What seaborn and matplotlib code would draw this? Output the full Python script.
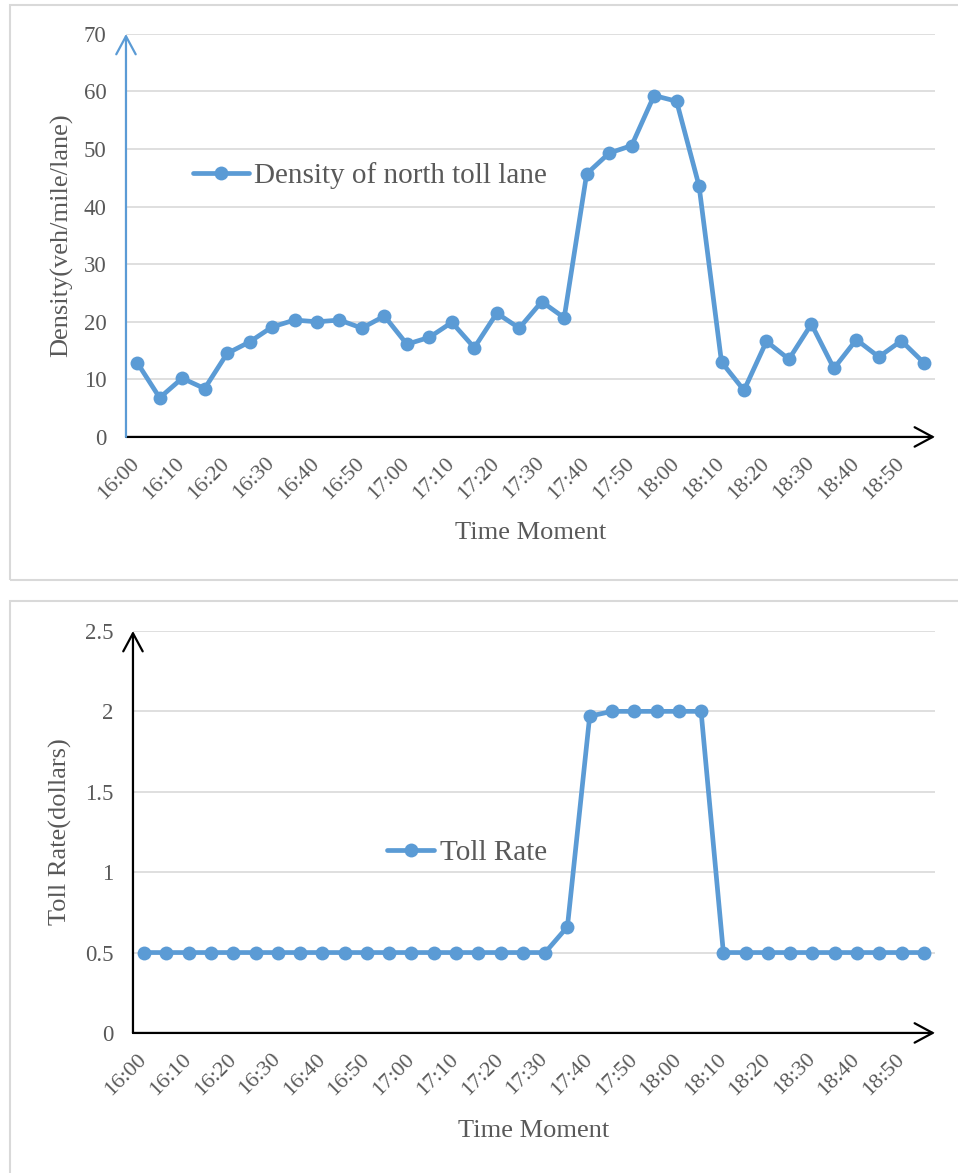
import numpy as np
import pandas as pd
import matplotlib
matplotlib.use("Agg")
import matplotlib.pyplot as plt
from matplotlib.patches import Rectangle
import seaborn as sns

times = ["16:00", "16:05", "16:10", "16:15", "16:20", "16:25", "16:30", "16:35", "16:40",
         "16:45", "16:50", "16:55", "17:00", "17:05", "17:10", "17:15", "17:20", "17:25",
         "17:30", "17:35", "17:40", "17:45", "17:50", "17:55", "18:00", "18:05", "18:10",
         "18:15", "18:20", "18:25", "18:30", "18:35", "18:40", "18:45", "18:50", "18:55"]

density = [12.9, 6.8, 10.2, 8.4, 14.5, 16.5, 19.1, 20.3, 20.0, 20.3, 18.9, 21.0,
           16.1, 17.3, 19.9, 15.5, 21.5, 18.9, 23.5, 20.7, 45.7, 49.3, 50.6, 59.3,
           58.3, 43.6, 13.0, 8.1, 16.6, 13.5, 19.6, 11.9, 16.9, 13.9, 16.7, 12.9]

toll = [0.5, 0.5, 0.5, 0.5, 0.5, 0.5, 0.5, 0.5, 0.5, 0.5, 0.5, 0.5,
        0.5, 0.5, 0.5, 0.5, 0.5, 0.5, 0.5, 0.66, 1.97, 2.0, 2.0, 2.0,
        2.0, 2.0, 0.5, 0.5, 0.5, 0.5, 0.5, 0.5, 0.5, 0.5, 0.5, 0.5]

density_ticks = [0, 10, 20, 30, 40, 50, 60, 70]
toll_ticks = [0, 0.5, 1, 1.5, 2, 2.5]
toll_tick_labels = ["0", "0.5", "1", "1.5", "2", "2.5"]

df = pd.DataFrame({"pos": np.arange(len(times)), "time": times,
                   "density": density, "toll": toll})

sns.set_style("white")
plt.rcParams["font.family"] = ["Liberation Serif", "DejaVu Serif"]

blue = "#5B9BD5"
grey_txt = "#595959"
grid_c = "#D9D9D9"

fig = plt.figure(figsize=(9.58, 11.73), dpi=100)

# panel frames
fig.patches.append(Rectangle((0.0104, 0.5055), 1.0, 0.4902, transform=fig.transFigure,
                             fill=False, edgecolor=grid_c, linewidth=1.5))
fig.patches.append(Rectangle((0.0104, -0.02), 1.0, 0.5076, transform=fig.transFigure,
                             fill=False, edgecolor=grid_c, linewidth=1.5))

ax1 = fig.add_axes([0.1315, 0.6275, 0.8445, 0.3436])
ax2 = fig.add_axes([0.1388, 0.1194, 0.8372, 0.3427])


def style_axis(ax, col, yticks, ylabels, ylim, ylab, ycol, xlab_y, ylab_x):
    sns.lineplot(data=df, x="pos", y=col, ax=ax, color=blue, linewidth=3.4,
                 marker="o", markersize=10, markeredgewidth=0, legend=False)
    ax.set_xlim(-0.5, len(times) - 0.5)
    ax.set_ylim(*ylim)
    ax.set_yticks(yticks)
    ax.set_yticklabels(ylabels, fontsize=16.5, color=grey_txt)
    ax.set_xticks(df["pos"][::2])
    ax.set_xticklabels(df["time"][::2], fontsize=16, color=grey_txt,
                       rotation=45, ha="right", va="center", rotation_mode="anchor")
    ax.tick_params(axis="y", length=0, pad=14)
    ax.tick_params(axis="x", length=0, pad=17)
    ax.grid(axis="y", color=grid_c, linewidth=1.2)
    ax.grid(axis="x", visible=False)
    for s in ax.spines.values():
        s.set_visible(False)
    ax.set_xlabel("Time Moment", fontsize=19, color=grey_txt)
    ax.xaxis.label.set_va("center")
    ax.xaxis.set_label_coords(0.5, xlab_y)
    ax.set_ylabel(ylab, fontsize=19, color=grey_txt)
    ax.yaxis.label.set_va("center")
    ax.yaxis.set_label_coords(ylab_x, 0.5)
    arrow = "->,head_length=1.3,head_width=0.7"
    ax.annotate("", xy=(1, 0), xytext=(0, 0), xycoords="axes fraction",
                arrowprops=dict(arrowstyle=arrow, color="black", lw=1.6,
                                shrinkA=0, shrinkB=0), annotation_clip=False)
    ax.annotate("", xy=(0, 1), xytext=(0, 0), xycoords="axes fraction",
                arrowprops=dict(arrowstyle=arrow, color=ycol, lw=1.6,
                                shrinkA=0, shrinkB=0), annotation_clip=False)


style_axis(ax1, "density", density_ticks, [str(t) for t in density_ticks], (0, 70),
           "Density(veh/mile/lane)", blue, -0.238, -0.080)
style_axis(ax2, "toll", toll_ticks, toll_tick_labels, (0, 2.5),
           "Toll Rate(dollars)", "black", -0.244, -0.090)

ax1.legend([ax1.lines[0]], ["Density of north toll lane"], loc="center left",
           bbox_to_anchor=(0.083, 0.648), frameon=False, fontsize=21,
           labelcolor=grey_txt, handlelength=1.9, handletextpad=0.2,
           borderpad=0, borderaxespad=0)
ax2.legend([ax2.lines[0]], ["Toll Rate"], loc="center left",
           bbox_to_anchor=(0.317, 0.448), frameon=False, fontsize=21,
           labelcolor=grey_txt, handlelength=1.6, handletextpad=0.2,
           borderpad=0, borderaxespad=0)

fig.savefig("out.png", dpi=100)
